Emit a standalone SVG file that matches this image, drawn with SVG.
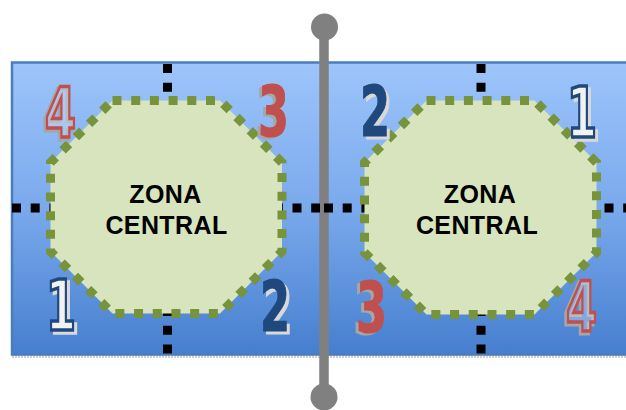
<svg xmlns="http://www.w3.org/2000/svg" width="626" height="410" viewBox="0 0 626 410">
<defs>
<linearGradient id="bg" x1="0" y1="0" x2="0" y2="1">
<stop offset="0" stop-color="#9dc5fb"/>
<stop offset="0.5" stop-color="#7aa9ec"/>
<stop offset="1" stop-color="#467fcf"/>
</linearGradient>
<style>
.oct{fill:#d7e4bd;stroke:#77933c;stroke-width:9;stroke-dasharray:9 9.7}
.cross{stroke:#000;stroke-width:9;stroke-dasharray:9 9.7;fill:none}
.lbl{font-family:"Liberation Sans",Arial,sans-serif;font-weight:bold;font-size:25px;fill:#000;text-anchor:middle;letter-spacing:0.4px}
.num{font-family:"DejaVu Sans",sans-serif;font-weight:bold;font-size:70px}
.red{fill:#c0504d;stroke:#c0504d;stroke-width:1.2}
.blue{fill:#1f497d;stroke:#1f497d;stroke-width:1.2}
.redout{fill:#dbe3f0;fill-opacity:0.35;stroke:#c0504d;stroke-width:3.5}
.blueout{fill:#f2f2f2;stroke:#1f497d;stroke-width:3.5}
.shG{fill:#a6a6a6;stroke:#a6a6a6;stroke-width:1.2}
.shGo{fill:none;stroke:#a6a6a6;stroke-width:5}
.shL{fill:#d9d9d9;stroke:#d9d9d9;stroke-width:1.2}
.shLo{fill:#d9d9d9;stroke:#d9d9d9;stroke-width:3.5}
</style>
</defs>
<g id="background">
<line x1="12" y1="356.5" x2="626" y2="356.5" stroke="#d0d0d0" stroke-width="3" stroke-dasharray="2 1"/>
<rect x="12" y="62.5" width="620" height="292" fill="url(#bg)" stroke="#4a7ebb" stroke-width="2.5"/>
</g>
<g id="pole">
<line x1="324" y1="27" x2="324" y2="397" stroke="#808080" stroke-width="9.5"/>
<circle cx="324.5" cy="27" r="13.5" fill="#808080"/>
<circle cx="324" cy="397" r="13.5" fill="#808080"/>
</g>
<g id="connectors">
<line class="cross" x1="12" y1="208" x2="320" y2="208"/>
<line class="cross" x1="167.5" y1="64" x2="167.5" y2="354"/>
<line class="cross" x1="324" y1="208" x2="632" y2="208"/>
<line class="cross" x1="481" y1="64" x2="481" y2="354"/>
</g>
<g id="zona-left">
<path class="oct" d="M112.5,100.5 H220 L282,162.5 V251.5 L220,313.5 H112.5 L50.5,251.5 V162.5 Z"/>
<text class="lbl" x="165.5" y="203">ZONA</text>
<text class="lbl" x="166.5" y="234">CENTRAL</text>
</g>
<g id="zona-right">
<path class="oct" d="M426.5,100.5 H534.5 L596.5,162.5 V252.5 L534.5,314.5 H426.5 L364.5,252.5 V162.5 Z"/>
<text class="lbl" x="480" y="203">ZONA</text>
<text class="lbl" x="477" y="234">CENTRAL</text>
</g>
<g id="num-left-4">
<text class="num shGo" x="43" y="139" textLength="31" lengthAdjust="spacingAndGlyphs">4</text>
<text class="num redout" x="45" y="137" textLength="31" lengthAdjust="spacingAndGlyphs">4</text>
</g>
<g id="num-left-3">
<text class="num shG" x="255" y="138" textLength="31" lengthAdjust="spacingAndGlyphs">3</text>
<text class="num red" x="258" y="136" textLength="31" lengthAdjust="spacingAndGlyphs">3</text>
</g>
<g id="num-left-1">
<text class="num shLo" x="49" y="333" textLength="30" lengthAdjust="spacingAndGlyphs">1</text>
<text class="num blueout" x="46" y="330" textLength="30" lengthAdjust="spacingAndGlyphs">1</text>
</g>
<g id="num-left-2">
<text class="num shL" x="263" y="334" textLength="30" lengthAdjust="spacingAndGlyphs">2</text>
<text class="num blue" x="260" y="331" textLength="30" lengthAdjust="spacingAndGlyphs">2</text>
</g>
<g id="num-right-2">
<text class="num shL" x="363" y="139" textLength="30" lengthAdjust="spacingAndGlyphs">2</text>
<text class="num blue" x="360" y="136" textLength="30" lengthAdjust="spacingAndGlyphs">2</text>
</g>
<g id="num-right-1">
<text class="num shLo" x="570" y="140" textLength="30" lengthAdjust="spacingAndGlyphs">1</text>
<text class="num blueout" x="567" y="137" textLength="30" lengthAdjust="spacingAndGlyphs">1</text>
</g>
<g id="num-right-3">
<text class="num shG" x="353" y="334" textLength="31" lengthAdjust="spacingAndGlyphs">3</text>
<text class="num red" x="356" y="332" textLength="31" lengthAdjust="spacingAndGlyphs">3</text>
</g>
<g id="num-right-4">
<text class="num shGo" x="564" y="333" textLength="31" lengthAdjust="spacingAndGlyphs">4</text>
<text class="num redout" x="566" y="331" textLength="31" lengthAdjust="spacingAndGlyphs">4</text>
</g>
</svg>
